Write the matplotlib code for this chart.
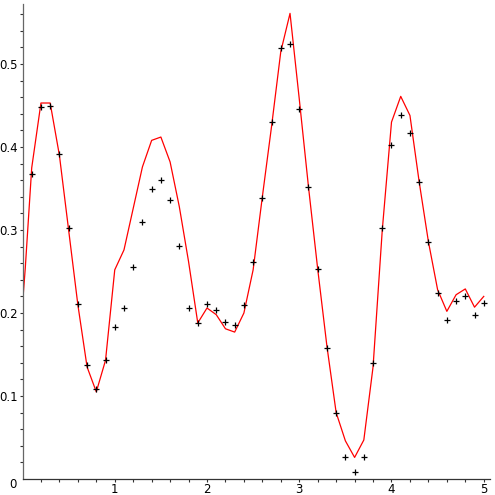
import numpy as np
import matplotlib
matplotlib.use("Agg")
import matplotlib.pyplot as plt

# sample points (crosses), x = 0.1, 0.2, ..., 5
pts_x = np.round(np.arange(0.1, 5.01, 0.1), 1)
pts_y = [0.368, 0.448, 0.449, 0.391, 0.303, 0.211, 0.137, 0.108, 0.143,
         0.183, 0.206, 0.255, 0.310, 0.349, 0.360, 0.336, 0.281, 0.206, 0.188,
         0.211, 0.204, 0.189, 0.186, 0.210, 0.262, 0.339, 0.430, 0.519, 0.524,
         0.446, 0.352, 0.253, 0.158, 0.079, 0.026, 0.008, 0.026, 0.140, 0.302,
         0.403, 0.438, 0.417, 0.358, 0.286, 0.224, 0.192, 0.214, 0.220, 0.197,
         0.212]

# red curve vertices
curve_x = [0.0, 0.03, 0.1, 0.2, 0.3, 0.4, 0.5, 0.6, 0.7, 0.8, 0.9,
           1.0, 1.1, 1.2, 1.3, 1.4, 1.5, 1.6, 1.7, 1.8, 1.9,
           2.0, 2.1, 2.2, 2.3, 2.4, 2.5, 2.6, 2.7, 2.8, 2.9,
           3.0, 3.1, 3.2, 3.3, 3.4, 3.5, 3.6, 3.7, 3.8, 3.9,
           4.0, 4.1, 4.2, 4.3, 4.4, 4.5, 4.6, 4.7, 4.8, 4.9, 5.0]
curve_y = [0.210, 0.254, 0.375, 0.453, 0.453, 0.390, 0.300, 0.210, 0.135, 0.105, 0.143,
           0.252, 0.276, 0.326, 0.376, 0.408, 0.412, 0.382, 0.328, 0.262, 0.188,
           0.206, 0.198, 0.181, 0.177, 0.200, 0.252, 0.340, 0.425, 0.515, 0.561,
           0.458, 0.352, 0.253, 0.160, 0.080, 0.046, 0.026, 0.047, 0.135, 0.300,
           0.430, 0.461, 0.438, 0.358, 0.286, 0.228, 0.202, 0.222, 0.229, 0.207, 0.220]

fig = plt.figure(figsize=(4.95, 4.95), dpi=100)
W = H = 495.0
ax = fig.add_axes([22.5 / W, 16 / H, 467.5 / W, 475 / H])

ax.plot(curve_x, curve_y, color="#ff0000", lw=0.9, zorder=2)
ax.plot(pts_x, pts_y, linestyle="none", marker="+", color="black",
        markersize=4, markeredgewidth=0.9, zorder=3)

ax.set_xlim(0, 467.5 / 92.25)
ax.set_ylim(0, 475 / 830.0)

for s in ["top", "right"]:
    ax.spines[s].set_visible(False)
ax.spines["left"].set_color("#666666")
ax.spines["bottom"].set_color("#333333")
ax.spines["left"].set_linewidth(0.9)
ax.spines["bottom"].set_linewidth(0.9)

ax.set_xticks([1, 2, 3, 4, 5])
ax.set_xticklabels(["1", "2", "3", "4", "5"])
ax.set_yticks([0.1, 0.2, 0.3, 0.4, 0.5])
ax.set_yticklabels(["0.1", "0.2", "0.3", "0.4", "0.5"])
ax.set_xticks(np.arange(0.2, 5.05, 0.2), minor=True)
ax.set_yticks(np.arange(0.02, 0.571, 0.02), minor=True)
ax.tick_params(which="both", direction="out", length=2, width=0.8,
               color="#333333", labelsize=8.5, pad=1.5)
ax.tick_params(axis="x", which="both", pad=1)

ax.annotate("0", xy=(0, 0), xycoords="data", xytext=(-7, -4),
            textcoords="offset points", ha="center", va="center", fontsize=8.5)

fig.savefig("out.png", dpi=100)
